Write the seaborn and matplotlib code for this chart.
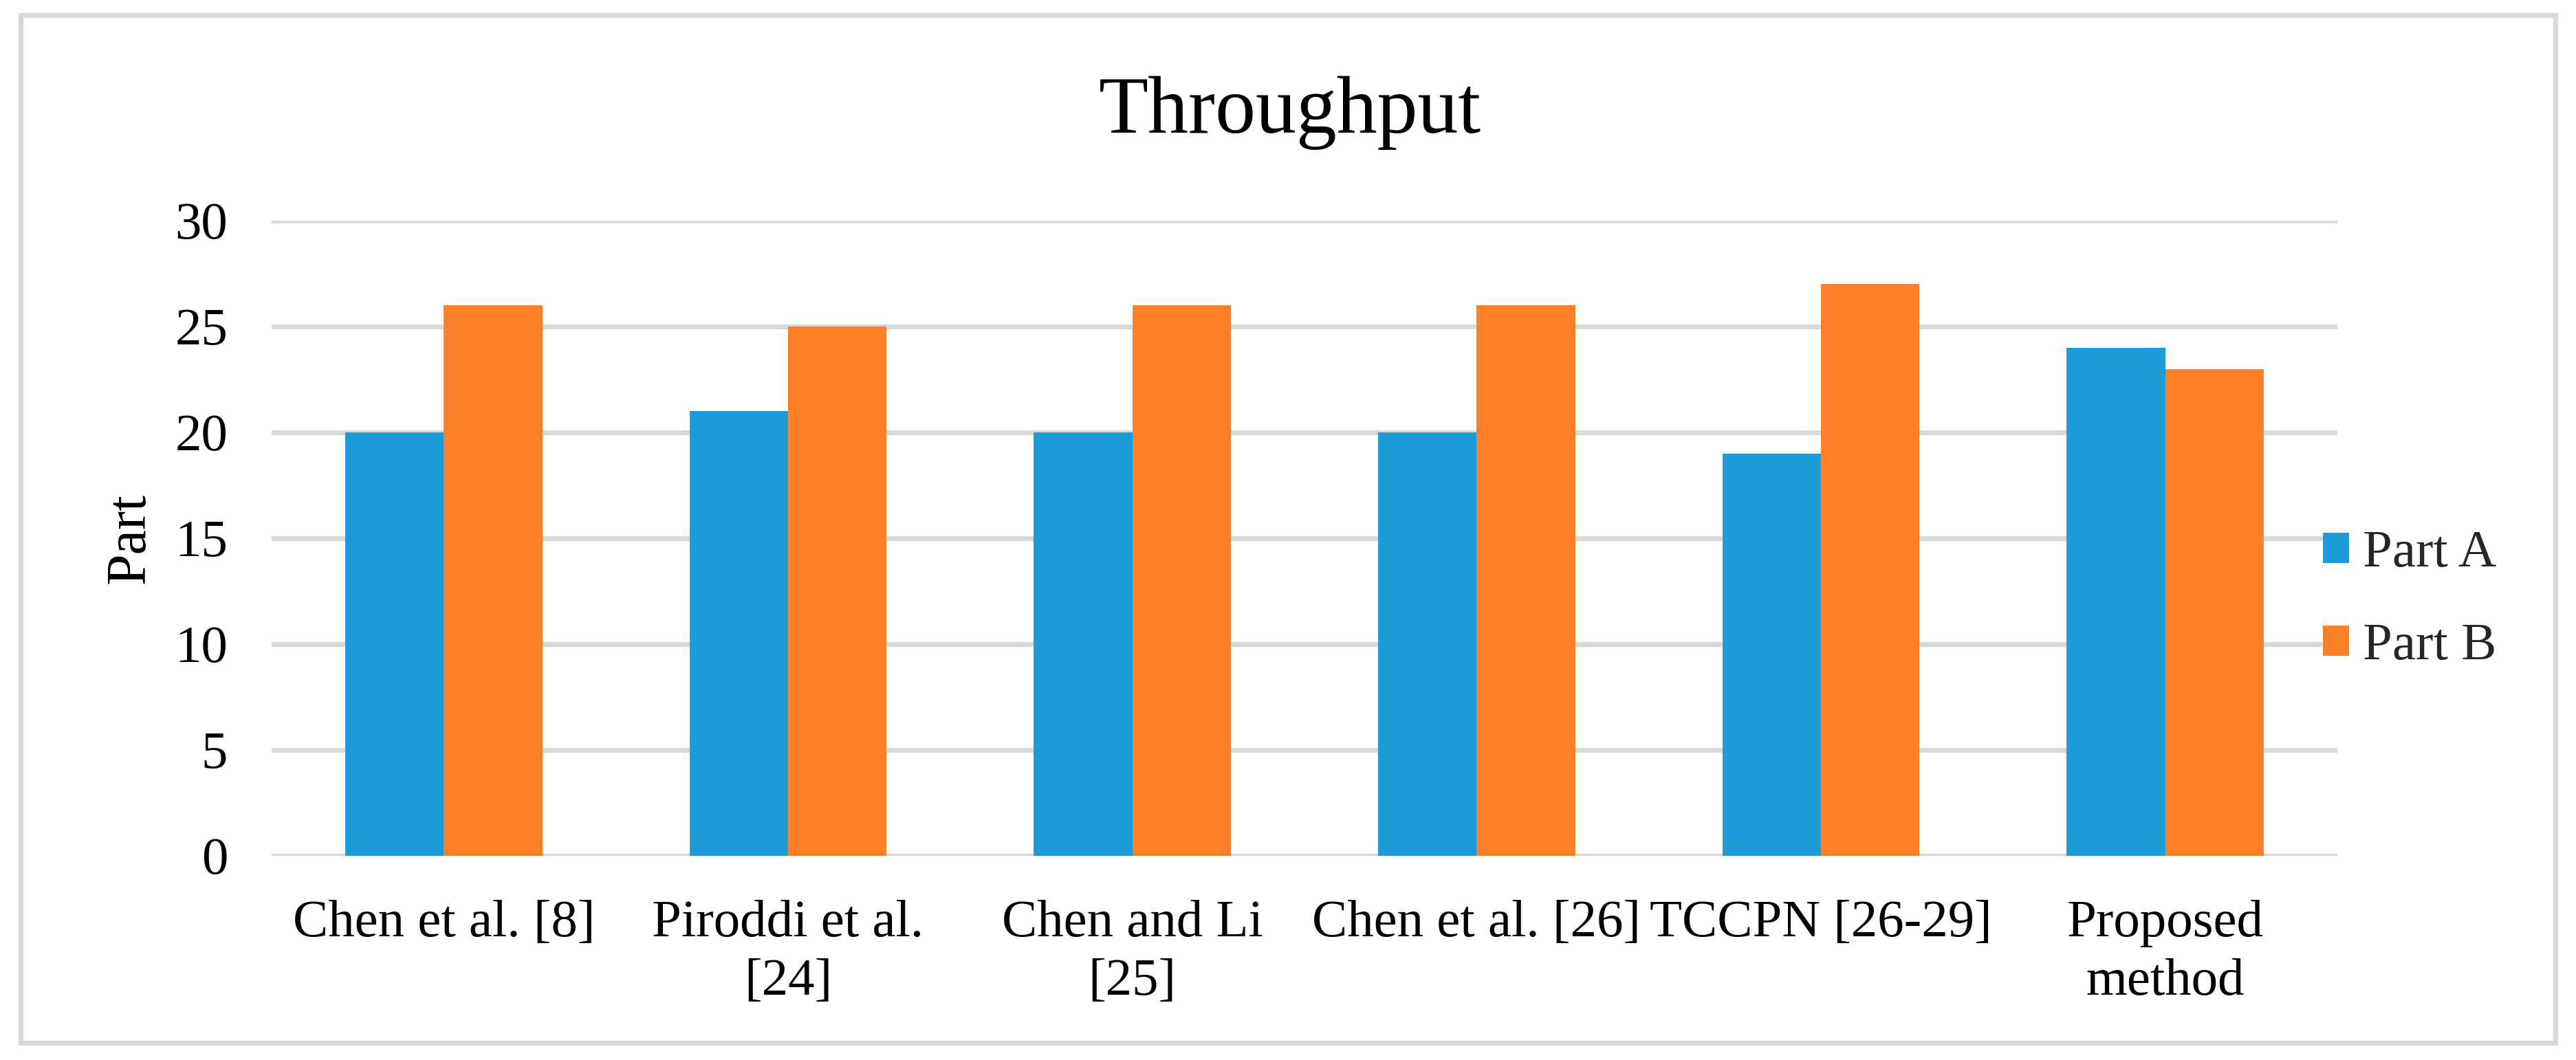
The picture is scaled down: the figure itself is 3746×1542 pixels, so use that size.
import matplotlib
matplotlib.use("Agg")
import matplotlib.pyplot as plt
import matplotlib.patches as mpatches
import seaborn as sns
import pandas as pd

categories = ["Chen et al. [8]", "Piroddi et al. [24]", "Chen and Li [25]",
              "Chen et al. [26]", "TCCPN [26-29]", "Proposed method"]
tick_labels = ["Chen et al. [8]", "Piroddi et al.\n[24]", "Chen and Li\n[25]",
               "Chen et al. [26]", "TCCPN [26-29]", "Proposed\nmethod"]
series_names = ["Part A", "Part B"]
part_a = [20, 21, 20, 20, 19, 24]
part_b = [26, 25, 26, 26, 27, 23]
y_ticks = [0, 5, 10, 15, 20, 25, 30]
colors = ["#1E9CD7", "#FE7F28"]

df = pd.DataFrame({
    "Method": categories * 2,
    "Series": [series_names[0]] * len(categories) + [series_names[1]] * len(categories),
    "Value": part_a + part_b,
})

sns.set_theme(style="white")
plt.rcParams["font.family"] = ["Liberation Serif", "DejaVu Serif"]

W, H = 3746, 1542
dpi = 200
fig = plt.figure(figsize=(W / dpi, H / dpi), dpi=dpi)
fig.patch.set_facecolor("white")

ax = fig.add_axes([395 / W, 1 - 1245 / H, (3399 - 395) / W, (1245 - 321) / H])
sns.barplot(data=df, x="Method", y="Value", hue="Series", order=categories,
            hue_order=series_names, palette=colors, width=0.572,
            saturation=1, ax=ax, legend=False, edgecolor="none", linewidth=0)

ax.set_xlim(-0.5, len(categories) - 0.5)
ax.set_ylim(0, 30)
ax.set_yticks(y_ticks)
ax.set_yticklabels([str(t) for t in y_ticks])
ax.set_xticks(range(len(categories)))
ax.set_xticklabels(tick_labels, linespacing=1.3)
ax.tick_params(axis="both", length=0, labelsize=27.7, colors="black")
ax.tick_params(axis="y", pad=23)
ax.tick_params(axis="x", pad=23)
for s in ax.spines.values():
    s.set_visible(False)
ax.yaxis.grid(True, color="#D9D9D9", linewidth=2.6)
ax.xaxis.grid(False)
ax.set_axisbelow(True)
ax.set_xlabel("")
ax.set_ylabel("Part", fontsize=29.5, color="black")
ax.yaxis.set_label_coords((228 - 395) / (3399 - 395), 0.5)

fig.text(1876 / W, 1 - 193 / H, "Throughput", fontsize=42.4, ha="center",
         va="baseline", color="black")

handles = [mpatches.Patch(facecolor=c, edgecolor="none", label=n)
           for c, n in zip(colors, series_names)]
fig.legend(handles=handles, loc="center left",
           bbox_to_anchor=(3378 / W, 1 - 873 / H), frameon=False,
           fontsize=27.7, handlelength=0.5, handleheight=0.5,
           handletextpad=0.25, labelspacing=0.86, borderpad=0, borderaxespad=0)

border = mpatches.Rectangle((30 / W, 1 - 1517 / H), (3716 - 30) / W, (1517 - 22) / H,
                            transform=fig.transFigure, fill=False,
                            edgecolor="#D9D9D9", linewidth=2.6)
fig.patches.append(border)

fig.savefig("out.png", dpi=dpi, facecolor="white")
